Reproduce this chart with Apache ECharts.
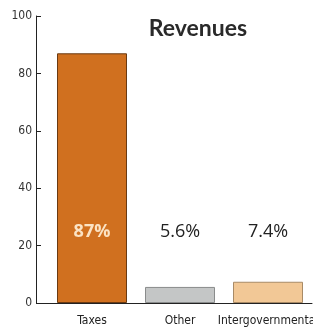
<!DOCTYPE html>
<html>
<head>
<meta charset="utf-8">
<script src="https://cdn.jsdelivr.net/npm/echarts@6/dist/echarts.min.js"></script>
<style>
html, body { margin: 0; padding: 0; background: #fff; }
#chart { width: 313px; height: 328px; }
</style>
</head>
<body>
<div id="chart"></div>
<script>
var categories = ['Taxes', 'Other', 'Intergovernmental'];
var values = [87, 5.6, 7.4];
var valueLabels = ['87%', '5.6%', '7.4%'];
var barColors = ['#d0701f', '#c4c6c6', '#f2c896'];
var borderColors = ['#6a3a12', '#8a8c8c', '#a88a66'];
var labelColors = ['#fbe3c4', '#222', '#222'];
var labelWeights = ['bold', 'normal', 'normal'];

var narrow = '"DejaVu Sans Condensed", sans-serif';

var chart = echarts.init(document.getElementById('chart'));
var option = {
    title: {
        text: 'Revenues',
        left: 193,
        textAlign: 'center',
        top: 12,
        textStyle: { fontFamily: 'Lato', fontWeight: 'bold', fontSize: 23, color: '#2a2a2a' }
    },
    grid: { left: 48, right: 1, top: 16, bottom: 25, containLabel: false, outerBoundsMode: 'none' },
    xAxis: {
        type: 'category',
        data: categories,
        axisLine: { lineStyle: { color: '#222', width: 1 } },
        axisTick: { show: false },
        axisLabel: { interval: 0, hideOverlap: false, color: '#222', fontSize: 12, margin: 12, fontFamily: narrow }
    },
    yAxis: {
        type: 'value',
        min: 0, max: 100, interval: 20,
        offset: 12,
        axisLine: { show: true, lineStyle: { color: '#222' } },
        axisTick: { show: true, inside: true, length: 5, lineStyle: { color: '#222' } },
        splitLine: { show: false },
        axisLabel: { color: '#333', fontSize: 12, margin: 4, fontFamily: narrow }
    },
    series: [{
        type: 'bar',
        barWidth: 70,
        data: values.map(function (v, i) {
            return {
                value: v,
                itemStyle: { color: barColors[i], borderColor: borderColors[i], borderWidth: 1 },
                label: { color: labelColors[i], fontWeight: labelWeights[i], formatter: valueLabels[i] }
            };
        }),
        label: {
            show: true,
            position: 'insideBottom',
            distance: 62,
            fontSize: 18,
            fontFamily: 'Open Sans'
        }
    }]
};
chart.setOption(option);

// extend the baseline left to the offset y axis
var p0 = chart.convertToPixel({ gridIndex: 0 }, [0, 0]);
chart.setOption({
    graphic: [{
        type: 'line',
        shape: { x1: 36, y1: p0[1] + 0.5, x2: 48, y2: p0[1] + 0.5 },
        style: { stroke: '#222', lineWidth: 1 }
    }]
});
</script>
</body>
</html>
